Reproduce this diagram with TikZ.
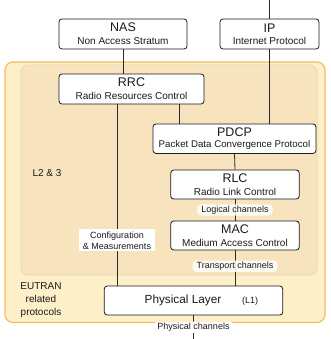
\documentclass[tikz,border=0pt]{standalone}
\usepackage{fontspec}
\setmainfont{Liberation Sans}
\usetikzlibrary{calc}
\definecolor{outerfill}{HTML}{FDEFC8}
\definecolor{outerdraw}{HTML}{F2BE5A}
\definecolor{innerfill}{HTML}{F7E4BE}
\definecolor{innerdraw}{HTML}{E9D7AE}
\definecolor{ink}{HTML}{1A1A1A}
\definecolor{wire}{HTML}{2A2A2A}
\newcommand{\ttl}[1]{{\fontsize{12.5}{13.5}\selectfont #1}}
\newcommand{\sub}[1]{{\fontsize{10}{11}\selectfont #1}}
\tikzset{
  protobox/.style={draw=ink, line width=0.8pt, rounded corners=3pt, fill=white,
    align=center, inner sep=0pt, text=ink},
  wireline/.style={draw=wire, line width=0.8pt},
  chlabel/.style={fill=white, fill opacity=0.85, text opacity=1, rounded corners=4pt,
    inner xsep=4pt, inner ysep=1.5pt, font=\fontsize{9}{10}\selectfont, text=ink},
  sidelabel/.style={align=center, font=\fontsize{10}{12}\selectfont, text=ink},
}
\begin{document}
\begin{tikzpicture}[x=1pt, y=-1pt]
\useasboundingbox (0,0) rectangle (330,339);
% background groups
\draw[fill=outerfill, draw=outerdraw, line width=1.2pt, rounded corners=8pt] (5,62) rectangle (325,322.5);
\draw[fill=innerfill, draw=innerdraw, line width=0.8pt, rounded corners=7pt] (21,65) rectangle (317,275);
% boxes
\node[protobox, minimum width=128pt, minimum height=30pt] (nas) at (123,34)
  {\ttl{NAS}\\[1pt]\sub{Non Access Stratum}};
\node[protobox, minimum width=99pt, minimum height=30pt] (ip) at (269.5,34)
  {\ttl{IP}\\[0pt]\sub{Internet Protocol}};
\node[protobox, minimum width=145pt, minimum height=30pt] (rrc) at (131.5,89)
  {\ttl{RRC}\\[1pt]\sub{Radio Resources Control}};
\node[protobox, minimum width=163pt, minimum height=29.5pt] (pdcp) at (234.5,138.7)
  {\ttl{PDCP}\\[-1pt]{\fontsize{9.7}{11}\selectfont Packet Data Convergence Protocol}};
\node[protobox, minimum width=128.5pt, minimum height=29pt] (rlc) at (235,184.5)
  {\ttl{RLC}\\[1pt]\sub{Radio Link Control}};
\node[protobox, minimum width=128.5pt, minimum height=29pt] (mac) at (235,235.5)
  {\ttl{MAC}\\[1pt]\sub{Medium Access Control}};
\node[protobox, minimum width=178.5pt, minimum height=29pt] (phy) at (193.5,300.5) {};
\node[text=ink, font=\fontsize{11.8}{13}\selectfont] (phytxt) at (183,300.5) {Physical Layer};
\node[text=ink, font=\fontsize{9}{10}\selectfont] (l1) at (250,301) {(L1)};
% free ends
\coordinate (top) at (269.5,0);
\coordinate (bot) at (193.5,339);
% connectors
\draw[wireline] (top) -- (ip.north);
\draw[wireline] (ip.south) -- (ip.south |- pdcp.north);
\draw[wireline] (nas.south) -- (nas.south |- rrc.north);
\draw[wireline] ([xshift=-25pt]rrc.south east) -- ([xshift=-25pt]rrc.south east |- pdcp.north);
\draw[wireline] ([xshift=-14.5pt]rrc.south) -- ([xshift=-14.5pt]rrc.south |- phy.north)
  node[pos=0.75, chlabel, fill opacity=1, rounded corners=0pt, align=center, inner ysep=2pt,
       font=\fontsize{9}{11}\selectfont] (conf) {Configuration\\\& Measurements};
\draw[wireline] (pdcp.south) -- (rlc.north);
\draw[wireline] (rlc.south) -- (mac.north) node[midway, chlabel] (logch) {Logical channels};
\draw[wireline] (mac.south) -- (mac.south |- phy.north) node[pos=0.45, chlabel] (trch) {Transport channels};
\draw[wireline] (phy.south) -- (bot) node[pos=0.5, chlabel, fill opacity=1] (phch) {Physical channels};
% side labels
\node[sidelabel] (l23) at (47,173) {L2 \& 3};
\node[sidelabel, font=\fontsize{10}{13}\selectfont] (eutran) at (41,300) {EUTRAN\\related\\protocols};
\end{tikzpicture}
\end{document}
